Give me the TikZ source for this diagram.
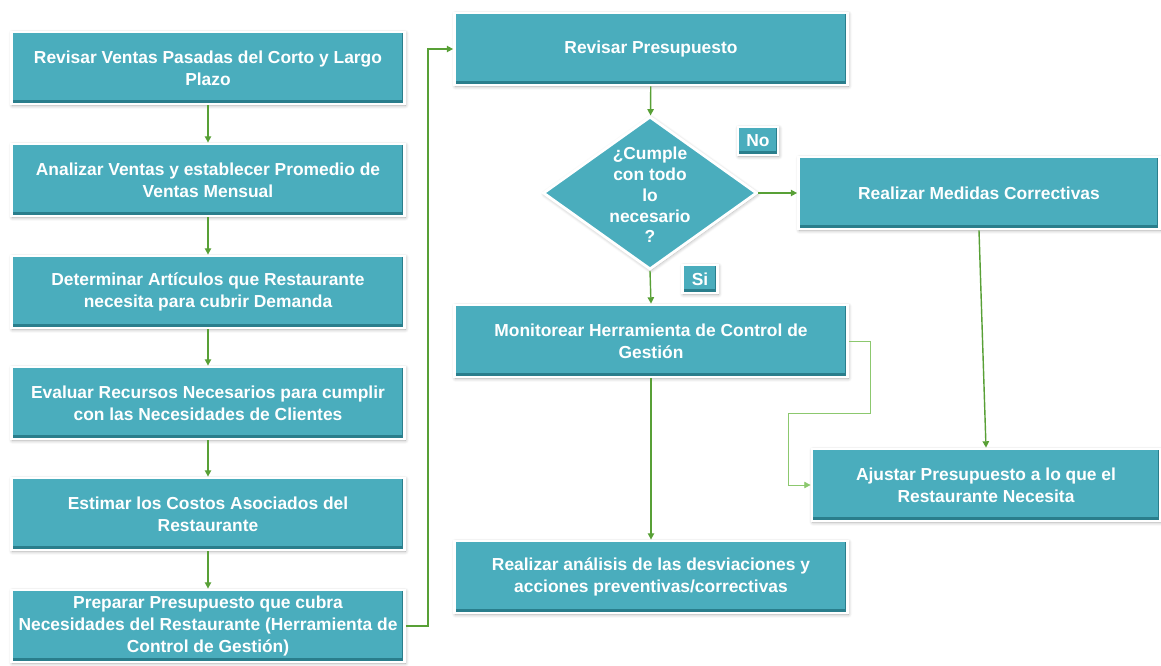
\documentclass[tikz,border=0pt]{standalone}
\usepackage{fontspec}
\setmainfont{Liberation Sans}
\usetikzlibrary{shapes.geometric,arrows.meta,shadows.blur}
\definecolor{tealbox}{RGB}{74,173,189}
\definecolor{tealedge}{RGB}{42,126,140}
\definecolor{flowgreen}{RGB}{88,160,54}
\definecolor{loopgreen}{RGB}{140,200,110}
\tikzset{
  bevel/.style={
    path picture={
      \fill[tealedge] (path picture bounding box.south west)
        rectangle ([yshift=2.4pt]path picture bounding box.south east);
      \fill[tealedge] (path picture bounding box.north east)
        rectangle ([xshift=-1.2pt]path picture bounding box.south east);
    }},
  stepbox/.style={draw=white, line width=1.6pt, fill=tealbox, text=white,
    font=\bfseries\fontsize{9.9}{12.4}\selectfont, align=center, inner sep=0pt,
    minimum width=7.86cm, minimum height=1.44cm, bevel,
    blur shadow={shadow blur steps=6, shadow xshift=0.5pt,
                 shadow yshift=-0.7pt, shadow opacity=35}},
  tagbox/.style={stepbox, minimum height=0.56cm},
  askbox/.style={diamond, aspect=1.4, draw=white, line width=1.6pt,
    fill=tealbox, inner sep=0pt,
    minimum width=4.28cm, minimum height=3.06cm,
    blur shadow={shadow blur steps=6, shadow xshift=0.5pt,
                 shadow yshift=-0.7pt, shadow opacity=35}},
  asktext/.style={text=white, align=center, inner sep=0pt,
    font=\bfseries\fontsize{9.9}{11.8}\selectfont},
  flow/.style={->, >={Triangle[length=3.6pt,width=3.6pt]}, flowgreen, line width=0.8pt},
  loop/.style={flow, loopgreen, line width=0.5pt}
}
\begin{document}
\begin{tikzpicture}[x=0.02cm,y=-0.02cm]
\useasboundingbox (0,0) rectangle (1161,666);

% columna izquierda
\node [stepbox] (ventas)    at (208, 68) {Revisar Ventas Pasadas del Corto y Largo\\Plazo};
\node [stepbox] (promedio)  at (208,180) {Analizar Ventas y establecer Promedio de\\Ventas Mensual};
\node [stepbox] (articulos) at (208,292) {Determinar Artículos que Restaurante\\necesita para cubrir Demanda};
\node [stepbox] (recursos)  at (208,403) {Evaluar Recursos Necesarios para cumplir\\con las Necesidades de Clientes};
\node [stepbox] (costos)    at (208,514) {Estimar los Costos Asociados del\\Restaurante};
\node [stepbox] (preparar)  at (208,626) {Preparar Presupuesto que cubra\\Necesidades del Restaurante (Herramienta de\\Control de Gestión)};

% columna derecha
\node [stepbox] (revisar)    at (651, 49) {Revisar Presupuesto};
\node [askbox]  (cumple)     at (650,193) {};
\node [asktext] (pregunta)   at (650,195) {¿Cumple\\con todo\\lo\\necesario\\?};
\node [tagbox, minimum width=0.8cm]  (no) at (758,141) {No};
\node [tagbox, minimum width=0.7cm]  (si) at (700,279) {Si};
\node [stepbox, minimum width=7.22cm] (medidas) at (979,193) {Realizar Medidas Correctivas};
\node [stepbox] (monitorear) at (651,341) {Monitorear Herramienta de Control de\\Gestión};
\node [stepbox, minimum width=6.96cm] (ajustar) at (986,485) {Ajustar Presupuesto a lo que el\\Restaurante Necesita};
\node [stepbox] (analisis)   at (651,577) {Realizar análisis de las desviaciones y\\acciones preventivas/correctivas};

\coordinate (subida) at (428,0);
\coordinate (rodeo1) at (870,413);
\coordinate (rodeo2) at (788,413);

\draw [flow] (ventas)    -- (promedio);
\draw [flow] (promedio)  -- (articulos);
\draw [flow] (articulos) -- (recursos);
\draw [flow] (recursos)  -- (costos);
\draw [flow] (costos)    -- (preparar);
\draw [flow] (preparar.east) -| (subida |- revisar) -- (revisar.west);
\draw [flow] (revisar)   -- (cumple);
\draw [flow] (cumple.east) -- (medidas.west);
\draw [flow] (cumple.south) -- (monitorear.north);
\draw [flow] (medidas.south) -- (ajustar.north);
\draw [flow] (monitorear) -- (analisis);
\draw [loop] (monitorear.east) -| (rodeo1) -- (rodeo2) |- (ajustar.west);
\end{tikzpicture}
\end{document}
